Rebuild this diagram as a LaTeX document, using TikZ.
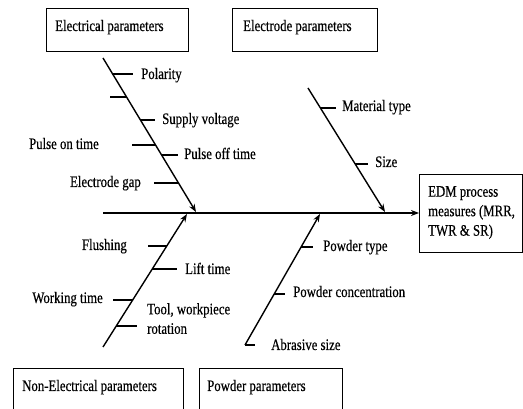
\documentclass[tikz,border=0pt]{standalone}
\usepackage{fontspec}
\setmainfont{Liberation Serif}[FakeStretch=0.8,FakeBold=0.4]
\usetikzlibrary{arrows.meta,calc}
\begin{document}
\begin{tikzpicture}[x=1pt,y=-1pt,
  box/.style={draw, line width=1.3pt, inner sep=0pt},
  lbl/.style={font=\fontsize{16}{19.5}\selectfont, inner sep=0pt},
  spine/.style={line width=1.4pt, -{Stealth[length=8pt,width=6pt]}},
  tickline/.style={line width=1.3pt}]
\clip (0,0) rectangle (523,409);
\fill[white] (0,0) rectangle (523,409);

% category boxes
\node[box, anchor=north west, minimum width=142pt, minimum height=43pt] (boxE) at (46,8) {};
\node[lbl, anchor=base west] (tE) at (55,31) {Electrical parameters};
\node[box, anchor=north west, minimum width=145pt, minimum height=43pt] (boxD) at (232,8) {};
\node[lbl, anchor=base west] (tD) at (243,31) {Electrode parameters};
\node[box, anchor=north west, minimum width=170pt, minimum height=60pt] (boxN) at (13,368) {};
\node[lbl, anchor=base west] (tN) at (22,391) {Non-Electrical parameters};
\node[box, anchor=north west, minimum width=143pt, minimum height=60pt] (boxP) at (199,368) {};
\node[lbl, anchor=base west] (tP) at (207,391) {Powder parameters};

% effect box
\node[box, anchor=north west, minimum width=102.5pt, minimum height=78pt] (out) at (419,174) {};
\node[lbl, anchor=north west, align=left] (tOut) at (428,186) {EDM process\\measures (MRR,\\TWR \& SR)};

% main line
\coordinate (mStart) at (103,213);
\draw[spine] (mStart) -- (out.west |- mStart);

% spines
\coordinate (eTop) at (103,58);  \coordinate (eTip) at (196,212);
\coordinate (dTop) at (308,88);  \coordinate (dTip) at (385,212);
\coordinate (nBot) at (103,347); \coordinate (nTip) at (187,214);
\coordinate (pBot) at (245,345); \coordinate (pTip) at (320,214);
\draw[spine] (eTop) -- (eTip);
\draw[spine] (dTop) -- (dTip);
\draw[spine] (nBot) -- (nTip);
\draw[spine] (pBot) -- (pTip);

% electrical causes
\draw[tickline] (112,74) -- (133,74);
\node[lbl, anchor=base west] (c1) at (141,79) {Polarity};
\draw[tickline] (110,97) -- (127,97);
\draw[tickline] (140,120) -- (155,120);
\node[lbl, anchor=base west] (c2) at (162,124) {Supply voltage};
\draw[tickline] (132,145) -- (156,145);
\node[lbl, anchor=base east] (c3) at (99,149) {Pulse on time};
\draw[tickline] (162,155) -- (178,155);
\node[lbl, anchor=base west] (c4) at (184,159) {Pulse off time};
\draw[tickline] (154,183) -- (179,183);
\node[lbl, anchor=base east] (c5) at (141,187) {Electrode gap};

% electrode causes
\draw[tickline] (320,108) -- (336,108);
\node[lbl, anchor=base west] (c6) at (342,111) {Material type};
\draw[tickline] (355,164) -- (368,164);
\node[lbl, anchor=base west] (c7) at (375,167) {Size};

% non-electrical causes
\draw[tickline] (148,246) -- (167,246);
\node[lbl, anchor=base east] (c8) at (127,250) {Flushing};
\draw[tickline] (152,269) -- (177,269);
\node[lbl, anchor=base west] (c9) at (185,274) {Lift time};
\draw[tickline] (113,300) -- (133,300);
\node[lbl, anchor=base east] (c10) at (103,303) {Working time};
\draw[tickline] (116,326) -- (137,326);
\node[lbl, anchor=north west, align=left] (c11) at (147,303) {Tool, workpiece\\rotation};

% powder causes
\draw[tickline] (301,247) -- (313,247);
\node[lbl, anchor=base west] (c12) at (323,251) {Powder type};
\draw[tickline] (274,294) -- (285,294);
\node[lbl, anchor=base west] (c13) at (293,297) {Powder concentration};
\draw[tickline] (pBot) -- ++(10,0);
\node[lbl, anchor=base west] (c14) at (271,350) {Abrasive size};
\end{tikzpicture}
\end{document}
